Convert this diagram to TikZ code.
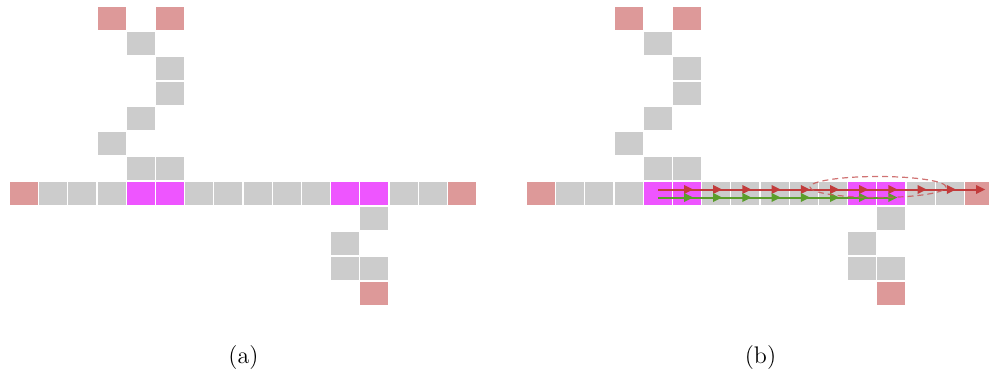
\documentclass[tikz,border=0pt]{standalone}
\usetikzlibrary{calc}
\definecolor{cgray}{HTML}{CCCCCC}
\definecolor{cmag}{HTML}{EE55FF}
\definecolor{cpink}{HTML}{DD9999}
\definecolor{cred}{HTML}{C23B3B}
\definecolor{cgreen}{HTML}{5A9E2A}
\definecolor{cell}{HTML}{C85A5A}
\begin{document}
\begin{tikzpicture}[x=0.5pt,y=-0.5pt,
  cellbox/.style={inner sep=0pt,outer sep=0pt,minimum width=14pt,minimum height=11.5pt,draw=none},
  graycell/.style={cellbox,fill=cgray},
  magcell/.style={cellbox,fill=cmag},
  pinkcell/.style={cellbox,fill=cpink},
  redpath/.style={draw=cred,line width=1pt},
  greenpath/.style={draw=cgreen,line width=1pt},
  redhead/.style={fill=cred},
  greenhead/.style={fill=cgreen},
  loop/.style={draw=cell,dashed,line width=0.6pt,dash pattern=on 3pt off 2pt,opacity=0.85},
  lbl/.style={inner sep=0pt,font=\large}]
\useasboundingbox (0,0) rectangle (989,374);
\foreach \p/\ox in {L/10,R/527}{
  \foreach \r/\c/\s in {0/3/pinkcell,0/5/pinkcell,1/4/graycell,2/5/graycell,3/5/graycell,
      4/4/graycell,5/3/graycell,6/4/graycell,6/5/graycell,
      7/0/pinkcell,7/1/graycell,7/2/graycell,7/3/graycell,7/4/magcell,7/5/magcell,
      7/6/graycell,7/7/graycell,7/8/graycell,7/9/graycell,7/10/graycell,
      7/11/magcell,7/12/magcell,7/13/graycell,7/14/graycell,7/15/pinkcell,
      8/12/graycell,9/11/graycell,10/11/graycell,10/12/graycell,11/12/pinkcell}{
    \node[\s] (\p-\r-\c) at ({\ox+14+29.2*\c},{18.5+25*\r}) {};
  }
}
% paths in panel (b)
\draw[redpath] ([yshift=2pt]R-7-4.center) -- ([yshift=2pt]R-7-15.center);
\draw[greenpath] ([yshift=-2pt]R-7-4.center) -- ([yshift=-2pt]R-7-12.center);
\foreach \c in {5,...,15}{
  \fill[redhead] ([shift={(-3,-8.5)}]R-7-\c.center) -- ++(9,4.5) -- ++(-9,4.5) -- cycle;
}
\foreach \c in {5,...,12}{
  \fill[greenhead] ([shift={(-3,-0.5)}]R-7-\c.center) -- ++(9,4.5) -- ++(-9,4.5) -- cycle;
}
\coordinate (loopc) at (878,187);
\draw[loop] (loopc) ellipse [x radius=34pt, y radius=5.25pt];
% labels
\node[lbl] (la) at (243.5,358) {(a)};
\node[lbl] (lb) at (760.5,358) {(b)};
\end{tikzpicture}
\end{document}
